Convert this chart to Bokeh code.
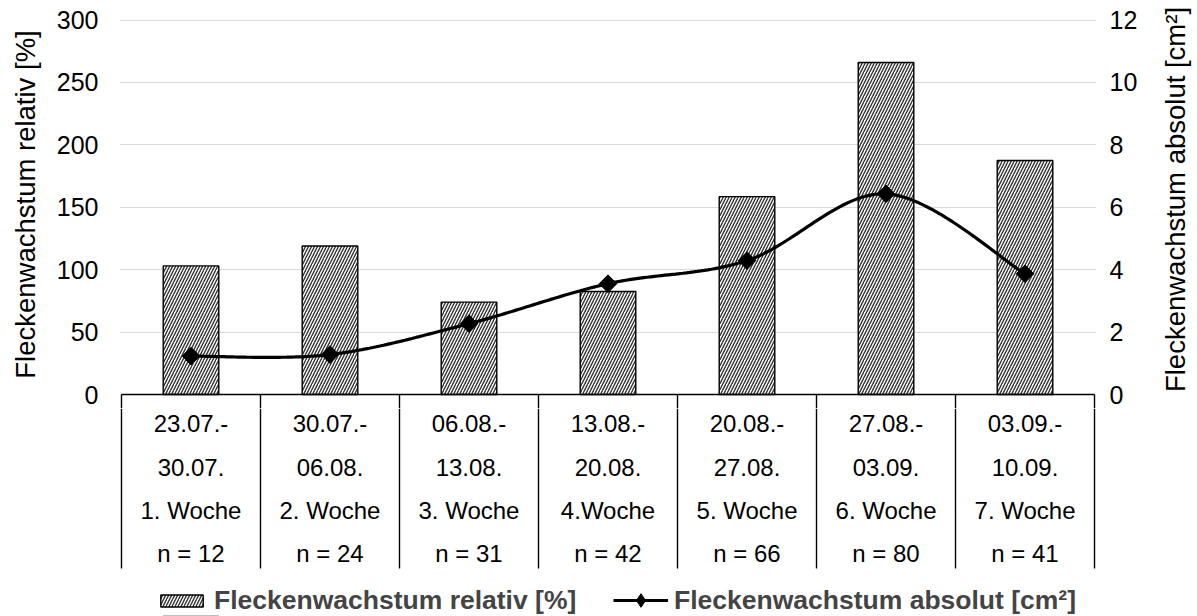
import numpy as np
from math import pi
from bokeh.plotting import figure
from bokeh.layouts import column, row
from bokeh.models import Range1d, LinearAxis, FixedTicker, Legend, LegendItem
from bokeh.core.properties import value
from bokeh.embed import file_html
from bokeh.resources import INLINE

# ---------------- data ----------------
start_dates = ["23.07.-", "30.07.-", "06.08.-", "13.08.-", "20.08.-", "27.08.-", "03.09.-"]
end_dates = ["30.07.", "06.08.", "13.08.", "20.08.", "27.08.", "03.09.", "10.09."]
weeks = ["1. Woche", "2. Woche", "3. Woche", "4.Woche", "5. Woche", "6. Woche", "7. Woche"]
n_counts = [12, 24, 31, 42, 66, 80, 41]
relativ = [103, 119, 74, 82.5, 158.5, 266, 187.5]
absolut = [1.23, 1.28, 2.27, 3.55, 4.29, 6.43, 3.87]
left_ticks = [0, 50, 100, 150, 200, 250, 300]
right_ticks = [0, 2, 4, 6, 8, 10, 12]
left_title = "Fleckenwachstum relativ [%]"
right_title = "Fleckenwachstum absolut [cm²]"
bar_series = "Fleckenwachstum relativ [%]"
line_series = "Fleckenwachstum absolut [cm²]"

FONT = "Liberation Sans"

# ---------------- layout (pixels) ----------------
W, H = 1197, 616
SIDE_W = 44                 # strip holding the right axis title
WM = W - SIDE_W             # width of chart / table figures
ML = 119
FRAME_R = 1096
MR = WM - FRAME_R
H_TOP = 408
H_BOT = H - H_TOP
ZERO_PX, TOP300_PX = 394.0, 19.5
PPU = (ZERO_PX - TOP300_PX) / 300.0
RATIO = 25.0


def y_of(px):
    return (ZERO_PX - px) / PPU


pad = 2.0 / ((FRAME_R - ML) / 7.0)
x_range = Range1d(0.5 - pad, 7.5 + pad)
xs = list(range(1, len(relativ) + 1))
bounds = [i + 0.5 for i in range(len(xs) + 1)]

HATCH = dict(fill_color="white", line_color="black", line_width=1.4, hatch_pattern="/",
             hatch_color="#333333", hatch_scale=6, hatch_weight=1.4)

# ================= top figure: chart =================
p = figure(width=WM, height=H_TOP, output_backend="svg", toolbar_location=None,
           x_range=x_range, y_range=Range1d(y_of(H_TOP), y_of(0)),
           x_axis_location=None, min_border_left=ML, min_border_right=MR,
           min_border_top=0, min_border_bottom=0)
p.extra_y_ranges = {"right": Range1d(y_of(H_TOP) / RATIO, y_of(0) / RATIO)}
p.outline_line_color = None

p.xgrid.visible = False
p.ygrid.ticker = FixedTicker(ticks=left_ticks[1:])
p.ygrid.grid_line_color = "#d9d9d9"
p.ygrid.grid_line_width = 1.2

ax = p.yaxis[0]
ax.ticker = FixedTicker(ticks=left_ticks)
ax.axis_line_color = None
ax.major_tick_line_color = None
ax.major_tick_out = 0
ax.major_tick_in = 0
ax.minor_tick_line_color = None
ax.major_label_text_font = FONT
ax.major_label_text_font_size = "25px"
ax.major_label_text_color = "black"
ax.major_label_standoff = 21
ax.axis_label = left_title
ax.axis_label_text_font = FONT
ax.axis_label_text_font_size = "27.5px"
ax.axis_label_text_font_style = "normal"
ax.axis_label_text_color = "black"
ax.axis_label_standoff = 13

rax = LinearAxis(y_range_name="right", ticker=FixedTicker(ticks=right_ticks))
rax.axis_line_color = None
rax.major_tick_line_color = None
rax.major_tick_out = 0
rax.major_tick_in = 0
rax.minor_tick_line_color = None
rax.major_label_text_font = FONT
rax.major_label_text_font_size = "25px"
rax.major_label_text_color = "black"
rax.major_label_standoff = 13
p.add_layout(rax, "right")

bars = p.vbar(x=xs, top=relativ, bottom=0, width=0.40, **HATCH)

# table frame (upper part)
p.segment(x0=bounds, y0=[0] * len(bounds), x1=bounds, y1=[y_of(H_TOP)] * len(bounds),
          line_color="black", line_width=1.4)
p.segment(x0=[bounds[0]], y0=[0], x1=[bounds[-1]], y1=[0], line_color="black", line_width=1.4)

# smoothed line (Catmull-Rom -> Bezier, like Excel's smoothed line)
P = np.array(list(zip(xs, absolut)), dtype=float)
ext = np.vstack([P[0], P, P[-1]])
cx, cy = [], []
t = np.linspace(0, 1, 40)
for i in range(len(P) - 1):
    p0, p1, p2, p3 = ext[i], ext[i + 1], ext[i + 2], ext[i + 3]
    c1 = p1 + (p2 - p0) / 6.0
    c2 = p2 - (p3 - p1) / 6.0
    seg = ((1 - t) ** 3)[:, None] * p1 + (3 * (1 - t) ** 2 * t)[:, None] * c1 + \
          (3 * (1 - t) * t ** 2)[:, None] * c2 + (t ** 3)[:, None] * p2
    cx.extend(seg[:, 0].tolist())
    cy.extend(seg[:, 1].tolist())
line = p.line(cx, cy, y_range_name="right", line_color="black", line_width=3.2)
marks = p.scatter(xs, absolut, y_range_name="right", marker="square", angle=pi / 4,
                  size=12.5, fill_color="black", line_color="black")

# ================= bottom figure: table + legend =================
q = figure(width=WM, height=H_BOT, output_backend="svg", toolbar_location=None,
           x_range=x_range, y_range=Range1d(y_of(H), y_of(H_TOP)),
           x_axis_location=None, y_axis_location=None,
           min_border_left=ML, min_border_right=MR, min_border_top=0, min_border_bottom=0)
q.outline_line_color = None
q.grid.visible = False

q.segment(x0=bounds, y0=[y_of(H_TOP)] * len(bounds), x1=bounds, y1=[y_of(568)] * len(bounds),
          line_color="black", line_width=1.4)
rows = [start_dates, end_dates, weeks, ["n = %d" % n for n in n_counts]]
row_px = [423, 466.5, 510, 553]
for rw, rp in zip(rows, row_px):
    q.text(x=xs, y=[y_of(rp)] * len(xs), text=rw, text_align="center", text_baseline="middle",
           text_font=value(FONT), text_font_size="24px", text_color="black")

# legend proxies (drawn outside the visible range)
lb = q.vbar(x=[1], top=[y_of(H) - 50], bottom=[y_of(H) - 60], width=0.40, **HATCH)
ll = q.line([1, 2], [y_of(H) - 50] * 2, line_color="black", line_width=3.2)
lm = q.scatter([1], [y_of(H) - 50], marker="diamond", size=14,
               fill_color="black", line_color="black")

LEG = dict(orientation="horizontal", border_line_color=None, background_fill_alpha=0,
           label_text_font=FONT, label_text_font_style="bold", label_text_font_size="26.5px",
           padding=0, margin=0, label_standoff=6)
leg1 = Legend(items=[LegendItem(label=bar_series, renderers=[lb])],
              location=(36, 0), glyph_width=53, glyph_height=15, **LEG)
leg2 = Legend(items=[LegendItem(label=line_series, renderers=[ll, lm])],
              location=(494, -1), glyph_width=55, glyph_height=34, **LEG)
q.add_layout(leg1)
q.add_layout(leg2)

# ================= side strip: right axis title =================
s = figure(width=SIDE_W, height=H, output_backend="svg", toolbar_location=None,
           x_range=Range1d(0, SIDE_W), y_range=Range1d(H, 0),
           x_axis_location=None, y_axis_location=None,
           min_border_left=0, min_border_right=0, min_border_top=0, min_border_bottom=0)
s.outline_line_color = None
s.grid.visible = False
s.text(x=[SIDE_W / 2.0], y=[199], text=[right_title], angle=pi / 2,
       text_align="center", text_baseline="middle", text_font=value(FONT),
       text_font_size="27.5px", text_color="black")

open("out.html", "w").write(file_html(row(column(p, q), s), INLINE))
